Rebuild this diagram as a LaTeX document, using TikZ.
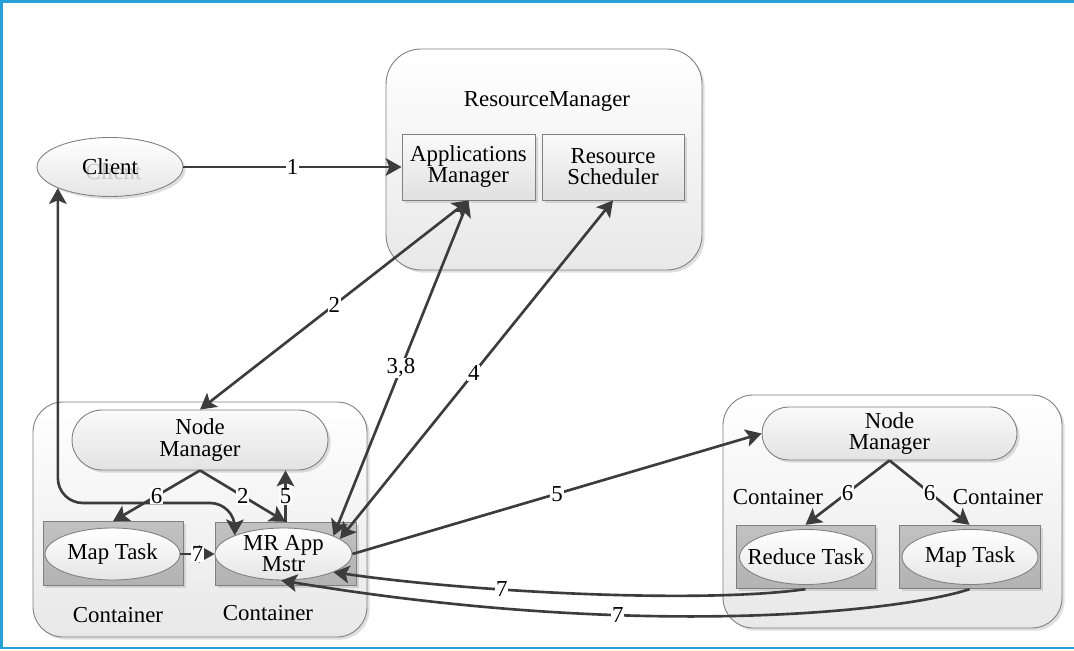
\documentclass[tikz,border=0pt]{standalone}
\usepackage{fontspec}
\setmainfont{Liberation Serif}
\usetikzlibrary{shapes.geometric,arrows.meta,shadows}

\definecolor{frameblue}{RGB}{38,160,214}
\definecolor{linegray}{RGB}{60,60,60}
\definecolor{edgegray}{RGB}{128,128,128}

\tikzset{
  txt/.style={font=\fontsize{13}{12}\selectfont, align=center, inner sep=1pt},
  num/.style={txt, fill=white, inner sep=0.5pt},
  softshadow/.style={drop shadow={opacity=0.25, shadow xshift=1.5pt, shadow yshift=-1.5pt}},
  host/.style={draw=edgegray, line width=0.5pt, rounded corners=0.6cm, top color=white, bottom color=black!9, softshadow},
  subbox/.style={draw=edgegray, line width=0.5pt, top color=black!2, bottom color=black!12, softshadow, txt, minimum height=1.32cm},
  pill/.style={draw=edgegray, line width=0.5pt, top color=black!2, bottom color=black!11, softshadow, txt},
  taskbox/.style={draw=edgegray, line width=0.5pt, top color=black!24, bottom color=black!30, minimum width=2.8cm, minimum height=1.27cm, softshadow},
  task/.style={ellipse, draw=edgegray, line width=0.5pt, top color=white, bottom color=black!10, inner sep=0pt},
  arr/.style={draw=linegray, line width=1.5pt, -{Stealth[length=9pt, width=10pt, inset=2pt]}},
  dbl/.style={arr, {Stealth[length=9pt, width=10pt, inset=2pt]}-{Stealth[length=9pt, width=10pt, inset=2pt]}}
}

\begin{document}
\begin{tikzpicture}[x=0.02cm,y=-0.02cm]
\useasboundingbox (0,0) rectangle (1074,651);

% Part A: frame
\draw[frameblue, line width=1.2pt] (1074,1.5)--(1.5,1.5)--(1.5,648)--(1074,648);

% Part B: ResourceManager
\node[host, rounded corners=0.7cm, minimum width=6.32cm, minimum height=4.42cm] (rm) at (544,159.5) {};
\node[txt] (rmTitle) at (547,101) {ResourceManager};
\node[subbox, minimum width=2.66cm] (am) at (468.5,167) {Applications\\Manager};
\node[subbox, minimum width=2.84cm] (rs) at (613,167) {Resource\\Scheduler};

% Client
\node[task, minimum width=2.92cm, minimum height=1.18cm, softshadow,
  label={[txt, text=black!22, xshift=2pt, yshift=-2.5pt]center:Client},
  label={[txt]center:Client}] (cl) at (110,167) {};

% Part C: left host
\node[host, minimum width=6.68cm, minimum height=4.7cm] (hostL) at (200,519.5) {};
\node[pill, rounded corners=0.6cm, minimum width=5.12cm, minimum height=1.2cm] (nmL) at (200,440) {Node\\Manager};
\node[taskbox] (mtBoxL) at (113,553.5) {};
\node[task, minimum width=2.7cm, minimum height=1.04cm, label={[txt]center:Map Task}] (mtL) at (112.5,554) {};
\node[taskbox, minimum width=2.82cm] (mrBox) at (285.5,554) {};
\node[task, minimum width=2.74cm, minimum height=1.04cm, label={[txt]center:MR App\\Mstr}] (mr) at (283.5,554) {};
\node[txt] (ctL1) at (118,615) {Container};
\node[txt] (ctL2) at (268,613) {Container};

% Part D: right host
\node[host, minimum width=6.78cm, minimum height=4.66cm] (hostR) at (892.5,511.5) {};
\node[pill, rounded corners=0.53cm, minimum width=5.1cm, minimum height=1.06cm] (nmR) at (889.5,433.5) {Node\\Manager};
\node[taskbox, minimum width=2.78cm] (rdBox) at (805.5,557) {};
\node[task, minimum width=2.66cm, minimum height=1.1cm, label={[txt]center:Reduce Task}] (rd) at (806,557) {};
\node[taskbox, minimum width=2.82cm] (mtBoxR) at (969.5,557) {};
\node[task, minimum width=2.72cm, minimum height=1.1cm, label={[txt]center:Map Task}] (mtR) at (970,557) {};
\node[txt] (ctR1) at (778,497) {Container};
\node[txt] (ctR2) at (998,497) {Container};

% Part E: connectors
\draw[arr] (cl) -- node[num]{1} (am);
\draw[dbl] (am.south) -- node[num]{2} (nmL.north);
\draw[dbl] (mr.20) -- node[num, pos=0.5]{3,8} (am.south);
\draw[dbl] (mr.15) -- node[num, pos=0.49]{4} (rs.south);
\draw[dbl, rounded corners=0.5cm] (cl.202) |- (235,503) -- (mr.159);

\draw[arr] (nmL.south) -- node[num]{6} (mtBoxL.north);
\draw[arr] (nmL.south) -- node[num]{2} (mrBox.north);
\draw[arr] (mrBox.north) -- node[num]{5} (nmL.south -| mrBox.north);
\draw[arr] (mtL) -- node[num]{7} (mr);

\draw[arr] (mr.east) -- node[num]{5} (nmR.west);
\draw[arr] (nmR.south) -- node[num]{6} (rdBox.north);
\draw[arr] (nmR.south) -- node[num]{6} (mtBoxR.north);

\draw[arr] (rdBox.south) .. controls (700,604) and (470,592) .. node[num, pos=0.65]{7} (mr.-20);
\draw[arr] (mtBoxR.south) .. controls (900,612) and (640,640) .. node[num, pos=0.65]{7} (mr.-95);

\end{tikzpicture}
\end{document}
